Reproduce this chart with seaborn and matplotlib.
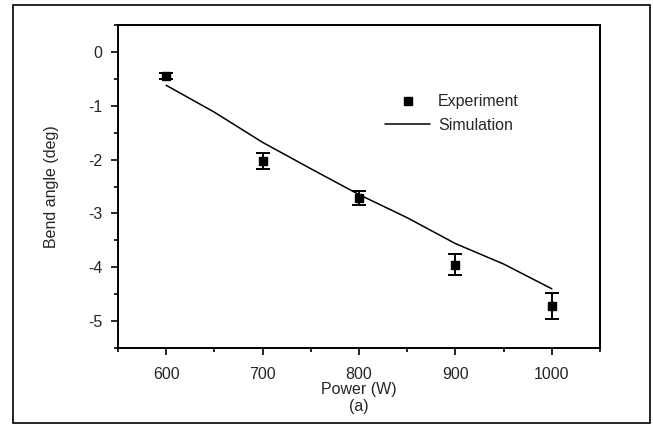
import matplotlib
matplotlib.use("Agg")
import matplotlib.pyplot as plt
import seaborn as sns
import numpy as np
import pandas as pd
from matplotlib.patches import Rectangle
from matplotlib.ticker import MultipleLocator
from matplotlib.lines import Line2D

# Data
exp_power = [600, 700, 800, 900, 1000]
exp_angle = [-0.45, -2.02, -2.71, -3.95, -4.72]
exp_err = [0.05, 0.15, 0.13, 0.20, 0.24]

sim_power = [600, 650, 700, 750, 800, 850, 900, 950, 1000]
sim_angle = [-0.62, -1.12, -1.68, -2.17, -2.65, -3.08, -3.56, -3.94, -4.40]

sns.set_style("ticks")
plt.rcParams['font.family'] = ['Liberation Sans Narrow', 'Liberation Sans', 'DejaVu Sans']
plt.rcParams['axes.unicode_minus'] = False

fig = plt.figure(figsize=(6.53, 4.25), dpi=100)
ax = fig.add_axes([118/653, 1-348/425, (600-118)/653, (348-25)/425])

sim_df = pd.DataFrame({"Power": sim_power, "Angle": sim_angle})
sns.lineplot(data=sim_df, x="Power", y="Angle", ax=ax, color="black", lw=1.1,
             label="Simulation")
ax.errorbar(exp_power, exp_angle, yerr=exp_err, fmt="s", color="black",
            ms=5.5, capsize=5, elinewidth=1.4, capthick=1.4, label="Experiment")

ax.set_xlim(550, 1050)
ax.set_ylim(-5.5, 0.5)
ax.xaxis.set_major_locator(MultipleLocator(100))
ax.xaxis.set_minor_locator(MultipleLocator(50))
ax.yaxis.set_major_locator(MultipleLocator(1))
ax.yaxis.set_minor_locator(MultipleLocator(0.5))
ax.tick_params(which="major", direction="out", length=5, width=1.2, labelsize=11.5, color="black")
ax.tick_params(which="minor", direction="out", length=3, width=1.2, color="black")
ax.tick_params(axis="x", which="major", pad=9)
ax.tick_params(axis="y", which="major", pad=6)
for s in ax.spines.values():
    s.set_linewidth(1.4)
    s.set_color("black")

ax.set_xlabel("Power (W)\n(a)", fontsize=11.5, labelpad=0, linespacing=1.15)
ax.set_ylabel("Bend angle (deg)", fontsize=11.5, labelpad=21)

hexp = Line2D([], [], marker="s", color="black", ls="none", ms=5.5)
hsim = Line2D([], [], color="black", lw=1.1)
ax.legend([hexp, hsim], ["Experiment", "Simulation"],
          loc="upper left", bbox_to_anchor=(0.525, 0.83), frameon=False,
          fontsize=11.5, handlelength=2.8, handletextpad=0.5, labelspacing=0.55)

fig.patches.append(Rectangle((13/653, 1-423/425), (650-13)/653, (423-5)/425,
                             transform=fig.transFigure, fill=False,
                             edgecolor="black", lw=1.2))

fig.savefig("out.png", dpi=100)
